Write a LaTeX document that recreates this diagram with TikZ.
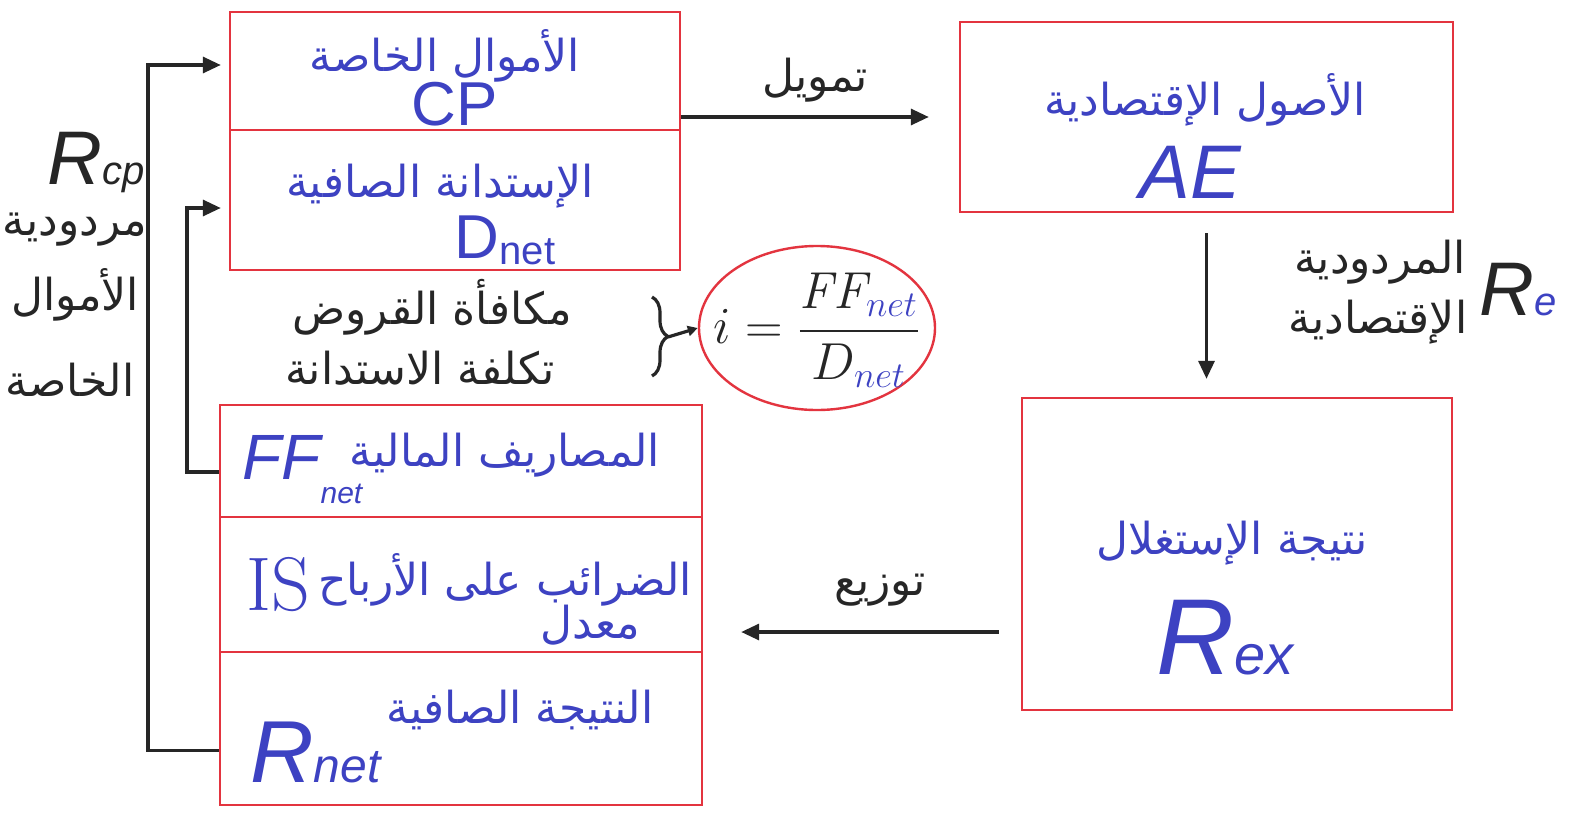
\RequirePackage{fix-cm}
\documentclass[tikz,border=0pt]{standalone}
\usepackage{fontspec}
\usepackage{amsmath}
\usetikzlibrary{arrows.meta,shapes.geometric,decorations.pathreplacing,calc}
\TeXXeTstate=1
\newfontfamily\arabicfont[Script=Arabic]{DejaVu Sans}
\newfontfamily\latfont{Liberation Sans}
\definecolor{penred}{HTML}{E3343F}
\definecolor{penblue}{HTML}{3D42C2}
\definecolor{penblack}{HTML}{262626}
\newcommand{\artx}[1]{{\arabicfont\beginR #1\endR}}
\begin{document}
\begin{tikzpicture}[x=0.5pt,y=-0.5pt,
 redbox/.style={draw=penred, line width=1.2pt, inner sep=0pt},
 conn/.style={draw=penblack, line width=1.6pt},
 arr/.style={conn, -{Triangle[length=9pt,width=8pt]}},
 bluetxt/.style={text=penblue, inner sep=0pt},
 blacktxt/.style={text=penblack, inner sep=0pt},
 artext/.style={font=\fontsize{22}{24}\selectfont},
 bigtxt/.style={font=\latfont\fontsize{31}{31}\selectfont},
]
\useasboundingbox (0,0) rectangle (1579,814);
\fill[white] (0,0) rectangle (1579,814);

% boxes
\node[redbox, minimum width=225pt, minimum height=59pt] (cp) at (455,71) {};
\node[redbox, minimum width=225pt, minimum height=70pt] (dnet) at (455,200) {};
\node[redbox, minimum width=246.5pt, minimum height=95pt] (ae) at (1206.5,117) {};
\node[redbox, minimum width=215pt, minimum height=156pt] (rex) at (1237,554) {};
\node[redbox, minimum width=241pt, minimum height=56pt] (ff) at (461,461) {};
\node[redbox, minimum width=241pt, minimum height=67.5pt] (is) at (461,584.5) {};
\node[redbox, minimum width=241pt, minimum height=76.5pt] (rnet) at (461,728.5) {};

% texts in top-left box
\node[bluetxt, artext] (tcp) at (445,56) {\artx{الأموال الخاصة}};
\node[bluetxt, bigtxt] (lcp) at (455,104) {CP};
\node[bluetxt, artext] (td) at (440,186) {\artx{الإستدانة الصافية}};
\node[bluetxt, bigtxt] (ld) at (505,240) {D\raisebox{-3pt}{\fontsize{20}{20}\selectfont net}};

% AE box
\node[bluetxt, artext] (tae) at (1205,100) {\artx{الأصول الإقتصادية}};
\node[bluetxt, font=\latfont\itshape\fontsize{38}{38}\selectfont] (lae) at (1190,172) {AE};

% Rex box
\node[bluetxt, artext] (trex) at (1232,543) {\artx{نتيجة الإستغلال}};
\node[bluetxt, font=\latfont\itshape\fontsize{54}{54}\selectfont] (lrex) at (1225,638) {R{\fontsize{28}{28}\selectfont ex}};

% bottom-left box
\node[bluetxt, artext] (tff) at (505,455) {\artx{المصاريف المالية}};
\node[bluetxt, font=\latfont\itshape\fontsize{32}{32}\selectfont, anchor=west] (lff) at (242,470) {FF\raisebox{-12pt}{\fontsize{15}{15}\selectfont net}};
\node[bluetxt, artext] (tis) at (505,580) {\artx{الضرائب على الأرباح}};
\node[bluetxt, font=\fontsize{38}{38}\selectfont] (lis) at (278,585) {IS};
\node[bluetxt, artext] (tmu) at (590,625) {\artx{معدل}};
\node[bluetxt, artext] (trn) at (520,710) {\artx{النتيجة الصافية}};
\node[bluetxt, font=\latfont\itshape\fontsize{44}{44}\selectfont, anchor=west] (lrn) at (250,752) {R{\fontsize{24}{24}\selectfont net}};

% middle
\node[blacktxt, artext] (tmk) at (432,307) {\artx{مكافأة القروض}};
\node[blacktxt, artext] (ttk) at (420,368) {\artx{تكلفة الاستدانة}};
\draw[conn, decorate, decoration={brace, amplitude=8pt}] (652,297) -- (652,376);
\coordinate (btip) at (668,337);
\node[draw=penred, line width=1.2pt, ellipse, minimum width=118pt, minimum height=82pt] (iform) at (817,328) {};
\node[blacktxt] (fi) at (817,330) {\fontsize{26}{30}\selectfont $i=\dfrac{\mathit{FF}_{\textcolor{penblue}{net}}}{D_{\textcolor{penblue}{net}}}$};
\draw[conn, -{Triangle[length=5pt,width=5pt]}] (btip) -- (iform.west);

% left label
\node[blacktxt, font=\latfont\itshape\fontsize{38}{38}\selectfont] (lrcp) at (96,163) {R{\fontsize{20}{20}\selectfont cp}};
\node[blacktxt, artext] (tmr) at (75,230) {\artx{مردودية}};
\node[blacktxt, artext] (tam) at (75,295) {\artx{الأموال}};
\node[blacktxt, artext] (tkh) at (70,380) {\artx{الخاصة}};

% right label
\node[blacktxt, artext] (tmre) at (1380,262) {\artx{المردودية}};
\node[blacktxt, artext] (tiq) at (1378,322) {\artx{الإقتصادية}};
\node[blacktxt, font=\latfont\itshape\fontsize{38}{38}\selectfont] (lre) at (1518,290) {R{\fontsize{20}{20}\selectfont\color{penblue} e}};

% arrow labels
\node[blacktxt, artext] (ttam) at (815,80) {\artx{تمويل}};
\node[blacktxt, artext] (ttaw) at (880,590) {\artx{توزيع}};

% connectors
\draw[arr] (cp.east |- ae.west) -- ([xshift=-15pt]ae.west);
\draw[arr, shorten <=10pt, shorten >=9pt] (ae.south) -- (ae.south |- rex.north);
\draw[arr, shorten <=11pt, shorten >=19pt] ([yshift=-39pt]rex.west) -- ([yshift=-39pt]rex.west -| is.east);
\coordinate (c1) at (148,65);
\draw[arr, shorten >=4pt] ([yshift=-11pt]rnet.west) -| (c1) -- ([yshift=3pt]cp.west);
\coordinate (c2) at (187,208);
\draw[arr, shorten >=4pt] ([yshift=-5.5pt]ff.west) -| (c2) -- ([yshift=-4pt]dnet.west);
\end{tikzpicture}
\end{document}
